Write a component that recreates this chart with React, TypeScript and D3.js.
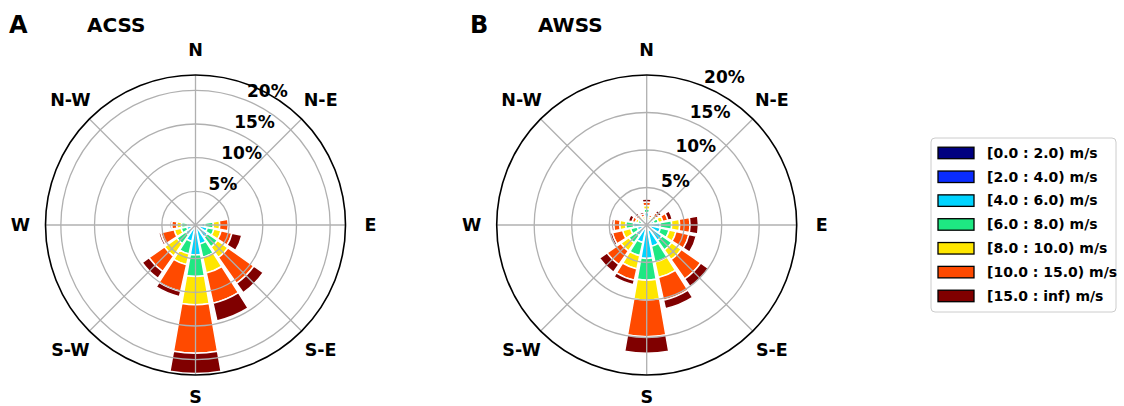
import React from "react";
import * as d3 from "d3";

// Compass sectors, clockwise from north
const DIRECTIONS = ["N","NNE","NE","ENE","E","ESE","SE","SSE","S","SSW","SW","WSW","W","WNW","NW","NNW"];

// Wind speed classes and their colours
const SPEED_BINS = ["[0.0 : 2.0) m/s","[2.0 : 4.0) m/s","[4.0 : 6.0) m/s","[6.0 : 8.0) m/s","[8.0 : 10.0) m/s","[10.0 : 15.0) m/s","[15.0 : inf) m/s"];
const BIN_COLORS = ["#000080","#0a2cff","#00d4ff","#1ee882","#ffe600","#ff4a00","#800000"];

// ACSS frequencies (%) per speed class, one value per direction
const acss0to2   = [0.02,0.02,0.03,0.05,0.05,0.10,0.10,0.15,0.30,0.10,0.10,0.05,0.05,0.05,0.02,0.02];
const acss2to4   = [0.05,0.05,0.07,0.10,0.25,0.30,0.40,0.45,0.45,0.40,0.30,0.25,0.20,0.10,0.05,0.05];
const acss4to6   = [0.10,0.10,0.15,0.30,1.10,1.40,1.70,2.30,3.70,2.00,1.40,1.05,0.95,0.20,0.10,0.08];
const acss6to8   = [0.05,0.05,0.10,0.25,1.25,1.00,1.80,2.00,3.20,1.90,1.60,0.85,0.90,0.20,0.08,0.06];
const acss8to10  = [0.04,0.04,0.08,0.20,0.95,1.10,1.90,2.40,4.20,1.65,2.25,1.05,0.70,0.15,0.07,0.05];
const acss10to15 = [0.03,0.03,0.05,0.20,1.30,1.65,4.70,4.60,7.20,4.05,2.80,2.05,0.75,0.15,0.06,0.03];
const acss15up   = [0.01,0.01,0.02,0.10,0.10,1.50,1.70,2.70,3.00,0.80,1.25,0.30,0.25,0.05,0.02,0.01];

// AWSS frequencies (%) per speed class, one value per direction
const awss0to2   = [0.05,0.05,0.05,0.05,0.05,0.10,0.10,0.15,0.20,0.10,0.05,0.05,0.05,0.05,0.05,0.05];
const awss2to4   = [0.25,0.10,0.15,0.20,0.30,0.40,0.60,0.60,0.50,0.35,0.25,0.20,0.25,0.15,0.15,0.10];
const awss4to6   = [1.37,0.35,0.50,0.75,1.45,1.37,1.82,2.15,3.75,1.95,1.43,1.05,1.47,0.55,0.45,0.40];
const awss6to8   = [0.46,0.30,0.45,0.60,1.53,1.20,1.56,2.17,2.90,1.80,1.20,0.90,1.03,0.45,0.40,0.35];
const awss8to10  = [0.47,0.30,0.40,0.60,1.07,0.93,1.57,2.10,2.65,1.80,1.31,1.10,0.80,0.35,0.35,0.30];
const awss10to15 = [0.47,0.30,0.45,0.70,1.38,1.77,3.15,3.10,4.90,1.55,2.23,1.40,0.80,0.45,0.35,0.35];
const awss15up   = [0.40,0.20,0.40,0.60,1.12,1.00,1.25,1.16,2.20,0.62,1.23,0.30,0.27,0.50,0.25,0.25];

// Radial tick values (%) and outer limits of each rose
const RADIAL_TICKS = [5, 10, 15, 20];
const ACSS_RMAX = 22.28;
const AWSS_RMAX = 20;

// Compass labels shown around each rose
const COMPASS_LABELS = ["N", "N-E", "E", "S-E", "S", "S-W", "W", "N-W"];

const FONT = "'DejaVu Sans', sans-serif";
const OUTER_R = 150;
const OPENING = 0.88;

type RoseProps = {
  cx: number;
  cy: number;
  bins: number[][];
  rmax: number;
  letter: string;
  title: string;
  letterX: number;
  titleX: number;
};

function Rose({ cx, cy, bins, rmax, letter, title, letterX, titleX }: RoseProps) {
  const r = d3.scaleLinear().domain([0, rmax]).range([0, OUTER_R]);
  const keys = SPEED_BINS.map((_, i) => `b${i}`);
  const rows = DIRECTIONS.map((dir, j) => {
    const row: Record<string, any> = { dir };
    keys.forEach((k, i) => (row[k] = bins[i][j]));
    return row;
  });
  const series = d3.stack<Record<string, any>>().keys(keys)(rows);
  const sector = (2 * Math.PI) / DIRECTIONS.length;
  const half = (sector * OPENING) / 2;
  const arc = d3.arc<any>();
  const rad = (deg: number) => (deg * Math.PI) / 180;
  const tickAngle = rad(22.5);

  return (
    <g>
      <text x={letterX} y={33} fontFamily={FONT} fontWeight="bold" fontSize={24}>{letter}</text>
      <text x={titleX} y={32} fontFamily={FONT} fontWeight="bold" fontSize={20}>{title}</text>
      <g transform={`translate(${cx},${cy})`}>
        {series.map((s, i) =>
          s.map((seg, j) => {
            const a = j * sector;
            const d = arc({
              innerRadius: r(seg[0]),
              outerRadius: r(seg[1]),
              startAngle: a - half,
              endAngle: a + half,
            });
            return (
              <path key={`${i}-${j}`} d={d || ""} fill={BIN_COLORS[i]} stroke="#ffffff" strokeWidth={1.5} />
            );
          })
        )}
        {RADIAL_TICKS.filter((t) => t < rmax - 0.01).map((t) => (
          <circle key={t} r={r(t)} fill="none" stroke="#b0b0b0" strokeWidth={1.3} />
        ))}
        {d3.range(8).map((k) => {
          const a = rad(k * 45);
          return (
            <line key={k} x1={0} y1={0} x2={OUTER_R * Math.sin(a)} y2={-OUTER_R * Math.cos(a)} stroke="#b0b0b0" strokeWidth={1.3} />
          );
        })}
        <circle r={OUTER_R} fill="none" stroke="#000000" strokeWidth={1.6} />
        {RADIAL_TICKS.map((t) => (
          <text
            key={t}
            x={r(t) * Math.sin(tickAngle)}
            y={-r(t) * Math.cos(tickAngle) - 3.5}
            fontFamily={FONT}
            fontWeight="bold"
            fontSize={17}
          >{`${t}%`}</text>
        ))}
        {COMPASS_LABELS.map((lab, k) => {
          const a = rad(k * 45);
          const rr = k % 2 === 0 ? (k === 4 ? 172 : 175) : 177;
          return (
            <text
              key={lab}
              x={rr * Math.sin(a)}
              y={-rr * Math.cos(a) + 6.3}
              textAnchor="middle"
              fontFamily={FONT}
              fontWeight="bold"
              fontSize={17.5}
            >{lab}</text>
          );
        })}
      </g>
    </g>
  );
}

function Legend() {
  const x0 = 931, y0 = 138, w = 185, h = 174;
  const row = d3.scaleLinear().domain([0, SPEED_BINS.length - 1]).range([153, 296]);
  return (
    <g>
      <rect x={x0} y={y0} width={w} height={h} rx={4} fill="#ffffff" stroke="#cccccc" strokeWidth={1} />
      {SPEED_BINS.map((lab, i) => (
        <g key={lab}>
          <rect x={938} y={row(i) - 5.8} width={36} height={11.5} fill={BIN_COLORS[i]} stroke="#000000" strokeWidth={1.3} />
          <text x={987} y={row(i) + 4.8} fontFamily={FONT} fontWeight="bold" fontSize={14}>{lab}</text>
        </g>
      ))}
    </g>
  );
}

export default function App() {
  const acss = [acss0to2, acss2to4, acss4to6, acss6to8, acss8to10, acss10to15, acss15up];
  const awss = [awss0to2, awss2to4, awss4to6, awss6to8, awss8to10, awss10to15, awss15up];
  return (
    <svg
      width={1124}
      height={406}
      style={{ position: "absolute", left: 0, top: 0, background: "#ffffff" }}
    >
      <Rose cx={195.5} cy={225} bins={acss} rmax={ACSS_RMAX} letter="A" title="ACSS" letterX={9} titleX={87} />
      <Rose cx={646.7} cy={225} bins={awss} rmax={AWSS_RMAX} letter="B" title="AWSS" letterX={470} titleX={538} />
      <Legend />
    </svg>
  );
}
